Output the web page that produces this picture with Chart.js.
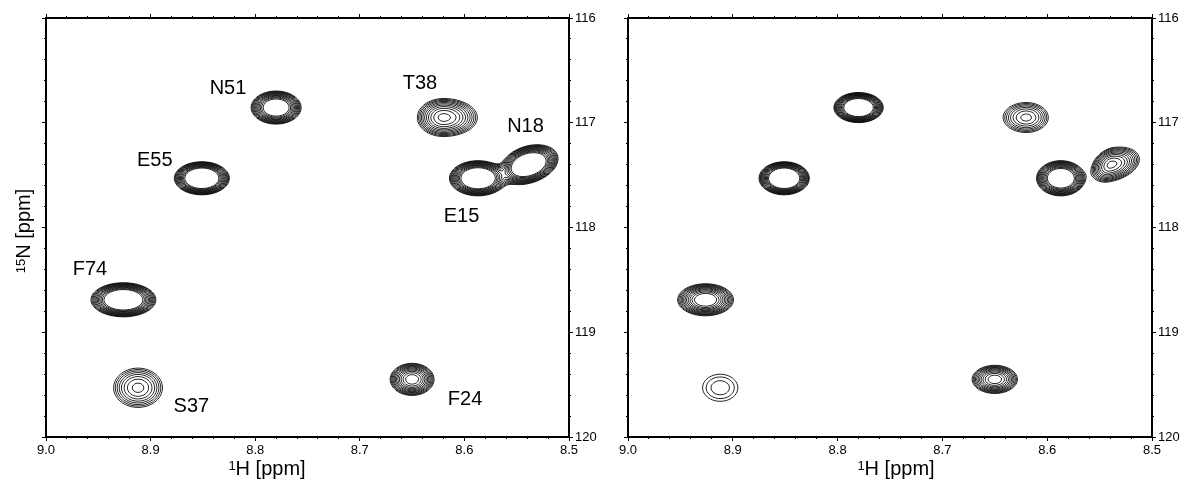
<!DOCTYPE html>
<html><head><meta charset="utf-8">
<script src="https://cdn.jsdelivr.net/npm/chart.js@4.4.1/dist/chart.umd.min.js"></script>
<style>
html,body{margin:0;padding:0;background:#fff;width:1182px;height:480px;overflow:hidden}
#c1{position:absolute;left:0;top:0}
#c2{position:absolute;left:600px;top:0}
</style></head><body>
<canvas id="c1" width="600" height="480"></canvas>
<canvas id="c2" width="582" height="480"></canvas>
<script>
// ---------------- data ----------------
const peakNames = ['N51', 'E55', 'F74', 'S37', 'T38', 'E15', 'N18', 'F24'];
const peakH = [8.780, 8.851, 8.926, 8.912, 8.620, 8.587, 8.539, 8.650];   // 1H ppm
const peakN = [116.855, 117.53, 118.69, 119.53, 116.95, 117.53, 117.40, 119.45]; // 15N ppm

// left spectrum: peak heights and line widths (ppm)
const leftHeight   = [15.5, 25.8, 22.8, 3.86, 6.7, 22.8, 22.8, 9.0];
const leftWidthHhi = [0.0102, 0.0103, 0.0124, 0.0142, 0.0128, 0.0109, 0.0108, 0.0100];
const leftWidthHlo = [0.0102, 0.0103, 0.0124, 0.0142, 0.0166, 0.0109, 0.0114, 0.0100];
const leftWidthN   = [0.0673, 0.0618, 0.065, 0.114, 0.093, 0.067, 0.076, 0.073];
const leftTilt     = [0, 0, 0, 0, 0, 0, 0.3, 0];

// right spectrum
const rightHeight   = [22.8, 25.8, 10.8, 1.65, 3.86, 18.2, 6.7, 7.4];
const rightWidthHhi = [0.0094, 0.0094, 0.0122, 0.0168, 0.0134, 0.0096, 0.0096, 0.0108];
const rightWidthHlo = [0.0094, 0.0094, 0.0122, 0.0168, 0.0128, 0.0096, 0.0138, 0.0108];
const rightWidthN   = [0.0573, 0.0618, 0.070, 0.129, 0.087, 0.0697, 0.086, 0.067];
const rightTilt     = [0, 0, 0, 0, 0, 0, 0.3, 0];

// contour levels
const contourLevels = [1.00, 1.20, 1.44, 1.73, 2.07, 2.49, 2.99, 3.58, 4.30, 5.16, 6.19, 7.43];

// peak label positions (left spectrum)
const labelH = [8.826, 8.896, 8.958, 8.861, 8.6425, 8.6028, 8.5416, 8.5994];
const labelN = [116.654, 117.346, 118.387, 119.69, 116.611, 117.885, 117.026, 119.63];

// axis ranges / ticks
const hRange = [8.5, 9.0];
const nRange = [116, 120];
const hMajor = 0.1, hMinor = 0.02;
const nMajor = 1, nMinor = 0.2;

// ---------------- rendering ----------------
const FONT = "'Liberation Sans', Arial, Helvetica, sans-serif";

function buildPeaks(height, wHi, wLo, wN, tilt) {
  return peakNames.map((n, i) => ({
    x: peakH[i], y: peakN[i], amp: height[i],
    wHh: wHi[i], wHl: wLo[i], wN: wN[i], tilt: tilt[i], name: n
  }));
}

function drawContours(chart) {
  const ds = chart.data.datasets[0];
  const {ctx, chartArea: a} = chart;
  const xs = chart.scales.x, ys = chart.scales.y;
  const x0 = a.left, y0 = a.top;
  const nx = Math.floor(a.right - a.left) + 1, ny = Math.floor(a.bottom - a.top) + 1;
  const gH = new Float64Array(nx), gN = new Float64Array(ny);
  for (let i = 0; i < nx; i++) gH[i] = xs.getValueForPixel(x0 + i);
  for (let j = 0; j < ny; j++) gN[j] = ys.getValueForPixel(y0 + j);
  const f = new Float32Array(nx * ny);
  ds.data.forEach(p => {
    const r = p.tilt, k = 1 / (1 - r * r);
    for (let j = 0; j < ny; j++) {
      const v = (gN[j] - p.y) / p.wN;
      if (Math.abs(v) > 9) continue;
      for (let i = 0; i < nx; i++) {
        const dh = gH[i] - p.x;
        const u = dh / (dh > 0 ? p.wHh : p.wHl);
        if (Math.abs(u) > 9) continue;
        const q = (u * u - 2 * r * u * v + v * v) * k;
        f[j * nx + i] += p.amp * Math.exp(-q / 2);
      }
    }
  });
  ctx.save();
  ctx.beginPath();
  ctx.rect(a.left, a.top, a.right - a.left, a.bottom - a.top);
  ctx.clip();
  ctx.strokeStyle = '#000';
  ctx.lineWidth = 0.85;
  ctx.beginPath();
  for (const L of ds.levels) {
    for (let j = 0; j < ny - 1; j++) {
      const row = j * nx, row2 = row + nx;
      for (let i = 0; i < nx - 1; i++) {
        const va = f[row + i], vb = f[row + i + 1], vc = f[row2 + i + 1], vd = f[row2 + i];
        let idx = 0;
        if (va > L) idx |= 8;
        if (vb > L) idx |= 4;
        if (vc > L) idx |= 2;
        if (vd > L) idx |= 1;
        if (idx === 0 || idx === 15) continue;
        const px = x0 + i, py = y0 + j;
        const pt = (e) => {
          switch (e) {
            case 0: return [px + (L - va) / (vb - va), py];       // top
            case 1: return [px + 1, py + (L - vb) / (vc - vb)];   // right
            case 2: return [px + (L - vd) / (vc - vd), py + 1];   // bottom
            default: return [px, py + (L - va) / (vd - va)];      // left
          }
        };
        const seg = (e1, e2) => {
          const p1 = pt(e1), p2 = pt(e2);
          ctx.moveTo(p1[0], p1[1]); ctx.lineTo(p2[0], p2[1]);
        };
        switch (idx) {
          case 1: case 14: seg(3, 2); break;
          case 2: case 13: seg(2, 1); break;
          case 3: case 12: seg(3, 1); break;
          case 4: case 11: seg(0, 1); break;
          case 6: case 9: seg(0, 2); break;
          case 7: case 8: seg(3, 0); break;
          case 5: seg(0, 1); seg(3, 2); break;
          case 10: seg(3, 0); seg(2, 1); break;
        }
      }
    }
  }
  ctx.stroke();
  ctx.restore();
}

const contourPlugin = { id: 'contours', afterDatasetsDraw(chart) { drawContours(chart); } };

function drawSup(ctx, sup, main, cx, baseY, size, supSize) {
  ctx.font = supSize + 'px ' + FONT;
  const ws = ctx.measureText(sup).width;
  ctx.font = size + 'px ' + FONT;
  const wm = ctx.measureText(main).width;
  const x = cx - (ws + wm) / 2;
  ctx.textAlign = 'left';
  ctx.textBaseline = 'alphabetic';
  ctx.font = supSize + 'px ' + FONT;
  ctx.fillText(sup, x, baseY - 5.5);
  ctx.font = size + 'px ' + FONT;
  ctx.fillText(main, x + ws, baseY);
}

const textPlugin = {
  id: 'nmrText',
  afterDraw(chart, args, o) {
    const ctx = chart.ctx;
    ctx.save();
    ctx.fillStyle = '#000';
    drawSup(ctx, '1', 'H [ppm]', o.xTitleX, o.xTitleY, 20, 13);
    if (o.yTitle) {
      ctx.save();
      ctx.translate(o.yTitleX, o.yTitleY);
      ctx.rotate(-Math.PI / 2);
      drawSup(ctx, '15', 'N [ppm]', 0, 0, 20, 13);
      ctx.restore();
    }
    if (o.labels) {
      const xs = chart.scales.x, ys = chart.scales.y;
      ctx.font = '20px ' + FONT;
      ctx.textAlign = 'center';
      ctx.textBaseline = 'alphabetic';
      peakNames.forEach((n, i) => {
        ctx.fillText(n, xs.getPixelForValue(labelH[i]), ys.getPixelForValue(labelN[i]) + 7);
      });
    }
    ctx.restore();
  }
};

function hAxis(pos, step, tl, labels, h, weight, border) {
  return {
    type: 'linear', position: pos, min: hRange[0], max: hRange[1], reverse: true, weight,
    ticks: { display: labels, stepSize: step, autoSkip: false, maxRotation: 0, padding: 2, color: '#000',
             font: { size: 13, family: FONT }, callback: v => Number(v).toFixed(1) },
    grid: { display: true, drawOnChartArea: false, drawTicks: true, tickLength: tl, color: '#000', lineWidth: 1 },
    border: { display: border, color: '#000', width: 2 },
    afterFit: s => { s.height = h; }
  };
}
function nAxis(pos, step, tl, labels, w, weight, border) {
  return {
    type: 'linear', position: pos, min: nRange[0], max: nRange[1], reverse: true, weight,
    ticks: { display: labels, stepSize: step, autoSkip: false, padding: 2, color: '#000',
             font: { size: 13, family: FONT }, callback: v => String(Math.round(v)) },
    grid: { display: true, drawOnChartArea: false, drawTicks: true, tickLength: tl, color: '#000', lineWidth: 1 },
    border: { display: border, color: '#000', width: 2 },
    afterFit: s => { s.width = w; }
  };
}

function makeChart(id, peaks, leftW, rightW, textOpts) {
  return new Chart(document.getElementById(id), {
    type: 'scatter',
    data: { datasets: [{ data: peaks, levels: contourLevels, pointRadius: 0, showLine: false,
                         xAxisID: 'x', yAxisID: 'y' }] },
    options: {
      responsive: false, animation: false, events: [], devicePixelRatio: 1,
      layout: { padding: 0 },
      plugins: { legend: { display: false }, tooltip: { enabled: false }, nmrText: textOpts },
      scales: {
        x:   hAxis('bottom', hMajor, 4, true, 43, 1, true),
        xm:  hAxis('bottom', hMinor, 2, false, 0, 0, false),
        xt:  hAxis('top', hMajor, 4, false, 18, 1, true),
        xtm: hAxis('top', hMinor, 2, false, 0, 0, false),
        y:   nAxis('right', nMajor, 4, true, rightW, 1, true),
        ym:  nAxis('right', nMinor, 2, false, 0, 0, false),
        yl:  nAxis('left', nMajor, 4, false, leftW, 1, true),
        ylm: nAxis('left', nMinor, 2, false, 0, 0, false)
      }
    },
    plugins: [contourPlugin, textPlugin]
  });
}

Chart.defaults.font.family = FONT;
makeChart('c1', buildPeaks(leftHeight, leftWidthHhi, leftWidthHlo, leftWidthN, leftTilt), 46, 31,
  { xTitleX: 267, xTitleY: 475, yTitle: true, yTitleX: 30, yTitleY: 231, labels: true });
makeChart('c2', buildPeaks(rightHeight, rightWidthHhi, rightWidthHlo, rightWidthN, rightTilt), 28, 30,
  { xTitleX: 296, xTitleY: 475, yTitle: false, labels: false });
</script>
</body></html>
